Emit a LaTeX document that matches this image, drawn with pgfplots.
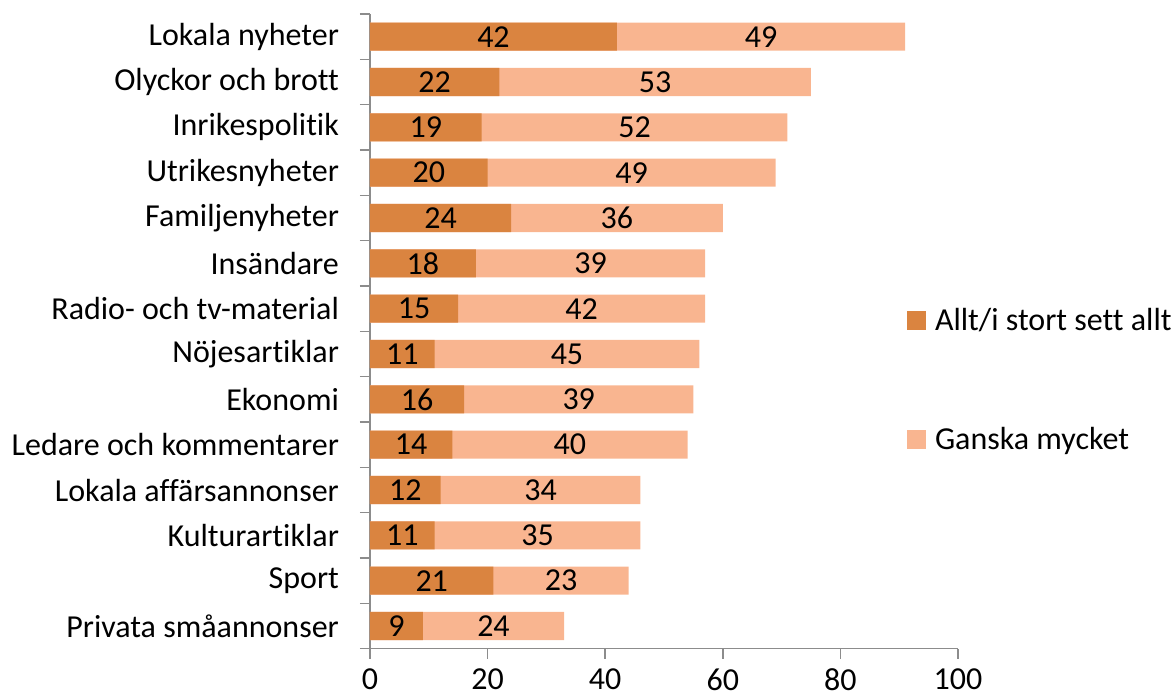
\documentclass[border=0pt]{standalone}
\usepackage{pgfplots}
\usepackage{pgfplotstable}
\pgfplotsset{compat=1.18}
\usepackage{fontspec}
\setmainfont[Ligatures=NoCommon]{Carlito}
\definecolor{darkor}{HTML}{DA8440}
\definecolor{lightor}{HTML}{F9B590}
\definecolor{axgray}{HTML}{8C8C8C}
\newcommand\cf{\fontsize{16pt}{19pt}\selectfont}
\pgfplotstableread{
a  b
42 49
22 53
19 52
20 49
24 36
18 39
15 42
11 45
16 39
14 40
12 34
11 35
21 23
9  24
}\datatab
\begin{document}
\begin{tikzpicture}
\begin{axis}[
  at={(0,0)}, anchor=south west,
  scale only axis,
  width=294pt, height=317.35pt,
  xmin=0, xmax=100,
  ymin=-0.5, ymax=13.5,
  y dir=reverse,
  /pgf/number format/assume math mode=true,
  axis x line*=bottom, axis y line*=left,
  axis line style={draw=axgray, line width=0.8pt, -},
  tick style={draw=axgray, line width=0.8pt},
  tick align=outside,
  major tick length=5pt,
  xtick={0,20,...,100},
  ytick={-0.5,0.5,...,13.5},
  yticklabels={},
  extra y ticks={0,1,...,13},
  extra y tick labels={Lokala nyheter,Olyckor och brott,Inrikespolitik,Utrikesnyheter,Familjenyheter,Insändare,Radio- och tv-material,Nöjesartiklar,Ekonomi,Ledare och kommentarer,Lokala affärsannonser,Kulturartiklar,Sport,Privata småannonser},
  extra y tick style={tick style={draw=none}, yticklabel style={font=\cf, anchor=east, xshift=-7pt}},
  xticklabel style={font=\cf, yshift=-1.5pt},
  legend style={draw=none, fill=none, at={(0.913,0.423)}, anchor=west, font=\cf,
     row sep=43pt, inner sep=0pt, legend cell align=left,
     /tikz/every odd column/.append style={column sep=2.5pt}},
]
\addlegendimage{legend image code/.code={\fill[darkor] (0pt,-4.5pt) rectangle (9pt,4.5pt);}}
\addlegendentry{Allt/i stort sett allt}
\addlegendimage{legend image code/.code={\fill[lightor] (0pt,-4.5pt) rectangle (9pt,4.5pt);}}
\addlegendentry{Ganska mycket}
% light bars (full length = a + b)
\addplot[xbar, bar width=0.62, bar shift=0pt, fill=lightor, draw=none, forget plot]
  table[x expr=\thisrow{a}+\thisrow{b}, y expr=\coordindex] {\datatab};
% dark bars
\addplot[xbar, bar width=0.62, bar shift=0pt, fill=darkor, draw=none, forget plot]
  table[x=a, y expr=\coordindex] {\datatab};
% value labels
\addplot[draw=none, mark=none, forget plot, nodes near coords, point meta=explicit,
  every node near coord/.append style={anchor=center, font=\cf, text=black}]
  table[x expr=\thisrow{a}/2, y expr=\coordindex, meta=a] {\datatab};
\addplot[draw=none, mark=none, forget plot, nodes near coords, point meta=explicit,
  every node near coord/.append style={anchor=center, font=\cf, text=black}]
  table[x expr=\thisrow{a}+\thisrow{b}/2, y expr=\coordindex, meta=b] {\datatab};
\end{axis}
\pgfresetboundingbox
\path[use as bounding box] (-185pt,-25.15pt) rectangle (401.5pt,324.35pt);
\end{tikzpicture}
\end{document}
